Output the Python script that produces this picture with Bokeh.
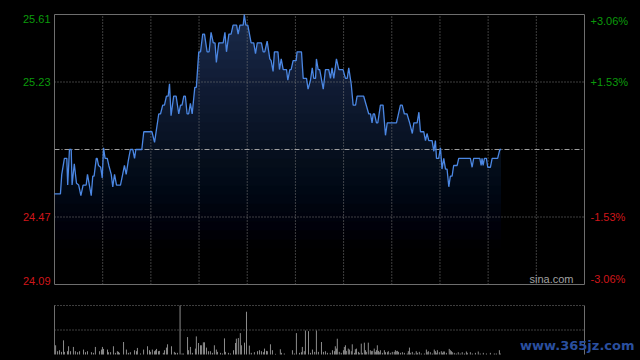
import numpy as np
from bokeh.plotting import figure
from bokeh.layouts import column
from bokeh.models import Label, Range1d
from bokeh.embed import file_html
from bokeh.resources import INLINE

# ---------------- data ----------------
prev_close = 24.85
price_low, price_high = 24.09, 25.61
price_levels = [25.61, 25.23, 24.47, 24.09]
price_labels = ["25.61", "25.23", "24.47", "24.09"]
pct_labels = ["+3.06%", "+1.53%", "-1.53%", "-3.06%"]
session_minutes = 241
time_divisions = 11

line_minute = [0.0, 2.7, 3.3, 4.5, 5.6, 6.0, 6.8, 7.6, 8.0, 9.0, 10.0, 11.0, 12.0, 13.0, 14.4,
               15.0, 16.0, 16.7, 17.4, 18.0, 19.0, 19.4, 20.0, 21.0, 21.7, 22.3, 23.0, 24.0, 24.7,
               25.8, 26.5, 27.3, 28.2, 30.0, 31.0, 31.8, 32.6, 33.6, 34.5, 35.6, 36.4, 37.0, 39.7,
               40.6, 44.3, 45.5, 47.4, 48.2, 49.2, 50.0, 50.9, 51.7, 52.3, 53.0, 54.2, 55.3, 56.5,
               57.3, 58.0, 58.8, 59.5, 60.3, 61.0, 61.8, 62.6, 63.8, 64.5, 65.6, 66.4, 67.4, 68.2,
               69.4, 70.3, 71.2, 72.2, 73.0, 73.6, 74.7, 76.7, 77.5, 78.2, 79.3, 80.3, 81.2, 82.8,
               83.5, 84.3, 85.8, 86.3, 87.0, 87.9, 89.4, 90.6, 91.4, 92.2, 94.1, 94.9, 95.6, 96.7,
               97.9, 98.5, 99.4, 100.0, 101.6, 102.3, 103.1, 104.0, 105.5, 106.1, 107.0, 107.6,
               108.5, 109.9, 110.3, 112.3, 113.1, 114.6, 115.3, 116.4, 117.2, 117.9, 118.7, 119.1,
               119.9, 120.6, 122.2, 123.2, 124.7, 125.5, 126.2, 127.0, 128.2, 129.3, 131.2, 132.3,
               133.1, 133.8, 134.9, 135.8, 136.9, 137.6, 140.6, 142.9, 143.7, 144.4, 144.9, 145.5,
               146.4, 147.0, 148.2, 149.4, 150.5, 151.3, 155.5, 157.3, 158.1, 159.1, 160.3, 161.5,
               162.7, 163.4, 164.9, 165.7, 166.4, 167.9, 168.7, 169.4, 170.2, 171.7, 172.5, 173.2,
               173.7, 174.7, 175.5, 176.2, 177.0, 177.8, 178.5, 179.3, 180.0, 180.8, 181.5, 183.1,
               183.8, 189.1, 189.9, 190.6, 193.4, 194.0, 194.4, 194.9, 195.5, 196.4, 197.0, 198.2,
               199.0, 201.5, 202.5, 203.1]
line_price = [24.60, 24.60, 24.71, 24.80, 24.80, 24.65, 24.85, 24.85, 24.65, 24.77, 24.66, 24.65,
              24.59, 24.65, 24.65, 24.71, 24.64, 24.59, 24.70, 24.70, 24.80, 24.80, 24.76, 24.75,
              24.69, 24.86, 24.80, 24.80, 24.76, 24.71, 24.64, 24.71, 24.65, 24.65, 24.71, 24.76,
              24.71, 24.79, 24.85, 24.85, 24.80, 24.85, 24.85, 24.95, 24.95, 24.89, 25.05, 25.05,
              25.10, 25.10, 25.15, 25.15, 25.22, 25.04, 25.15, 25.15, 25.05, 25.10, 25.10, 25.15,
              25.15, 25.05, 25.05, 25.11, 25.05, 25.20, 25.20, 25.40, 25.40, 25.50, 25.50, 25.40,
              25.40, 25.51, 25.45, 25.45, 25.34, 25.45, 25.45, 25.51, 25.40, 25.50, 25.50, 25.55,
              25.55, 25.50, 25.55, 25.55, 25.61, 25.55, 25.55, 25.45, 25.45, 25.39, 25.45, 25.45,
              25.40, 25.40, 25.46, 25.36, 25.35, 25.29, 25.40, 25.40, 25.30, 25.36, 25.30, 25.30,
              25.24, 25.30, 25.30, 25.35, 25.35, 25.40, 25.40, 25.25, 25.25, 25.19, 25.24, 25.31,
              25.25, 25.25, 25.36, 25.30, 25.30, 25.19, 25.30, 25.30, 25.25, 25.31, 25.25, 25.36,
              25.30, 25.30, 25.25, 25.25, 25.31, 25.22, 25.10, 25.10, 25.15, 25.15, 25.05, 25.05,
              25.00, 25.05, 25.05, 25.00, 25.00, 25.10, 25.10, 24.93, 25.00, 25.00, 25.10, 25.10,
              25.05, 25.05, 25.00, 24.94, 25.00, 25.00, 25.06, 24.95, 24.95, 24.90, 24.94, 24.90,
              24.90, 24.84, 24.90, 24.80, 24.80, 24.86, 24.74, 24.80, 24.74, 24.74, 24.64, 24.70,
              24.70, 24.76, 24.76, 24.80, 24.80, 24.75, 24.80, 24.80, 24.76, 24.80, 24.76, 24.80,
              24.80, 24.75, 24.75, 24.80, 24.80, 24.85, 24.85]

vol_minute = [0.5, 1.4, 2.3, 3.2, 4.1, 4.5, 5.9, 6.4, 7.3, 8.6, 9.5, 10.5, 11.4, 13.2, 14.1, 15.0,
              16.8, 17.7, 18.6, 20.5, 21.4, 21.8, 22.3, 24.1, 24.5, 25.5, 26.8, 27.7, 28.6, 29.1,
              29.5, 31.4, 32.7, 33.6, 34.5, 36.4, 37.3, 37.7, 39.1, 40.5, 42.3, 43.2, 43.6, 44.5,
              45.5, 45.9, 46.4, 47.3, 47.7, 49.5, 50.0, 50.9, 51.4, 53.2, 54.5, 55.0, 55.9, 57.1,
              58.0, 58.6, 60.5, 60.9, 61.8, 62.7, 64.1, 64.5, 65.5, 66.4, 66.8, 67.7, 68.2, 69.1,
              70.0, 70.9, 71.8, 72.7, 73.6, 74.1, 75.5, 76.4, 77.3, 77.7, 79.1, 80.0, 81.4, 82.3,
              82.7, 83.6, 84.5, 85.0, 86.4, 87.3, 88.6, 89.5, 90.9, 92.3, 93.2, 94.1, 95.0, 95.5,
              96.4, 96.8, 98.2, 99.1, 100.5, 102.7, 103.2, 104.5, 108.2, 109.1, 110.0, 111.4,
              112.3, 112.7, 113.6, 114.1, 115.5, 116.4, 117.3, 118.3, 119.1, 120.0, 121.4, 122.3,
              123.2, 124.1, 125.4, 126.4, 127.3, 127.7, 128.2, 128.6, 129.5, 130.4, 131.4, 131.8,
              132.3, 132.7, 133.6, 134.1, 135.0, 135.4, 136.4, 136.8, 137.3, 138.2, 138.6, 139.5,
              140.0, 140.9, 141.4, 141.8, 142.7, 143.6, 144.1, 144.5, 145.4, 145.9, 146.4, 146.8,
              147.3, 147.7, 148.2, 149.1, 150.0, 150.5, 151.4, 151.8, 152.7, 153.6, 154.5, 155.0,
              155.4, 155.9, 156.4, 157.3, 158.2, 159.1, 160.4, 160.9, 161.4, 161.8, 162.7, 163.6,
              164.5, 165.0, 165.9, 166.8, 168.2, 169.1, 169.5, 170.0, 170.9, 171.8, 172.7, 173.2,
              173.6, 174.1, 175.0, 175.9, 176.4, 176.8, 177.3, 178.2, 179.5, 180.0, 180.5, 180.9,
              181.8, 182.7, 183.6, 184.5, 185.4, 186.4, 187.3, 187.7, 189.1, 190.0, 191.4, 192.7,
              193.6, 195.0, 196.4, 198.2, 200.0, 200.9, 202.3, 202.7]
vol_value = [28, 10, 13, 8, 43, 8, 10, 25, 10, 23, 10, 7, 10, 15, 7, 10,
             7, 5, 23, 10, 15, 23, 17, 15, 7, 7, 25, 5, 10, 8,
             5, 38, 15, 5, 7, 13, 10, 20, 3, 15, 25, 13, 8, 15,
             10, 13, 17, 10, 11, 5, 13, 21, 31, 25, 8, 5, 5, 149,
             3, 3, 53, 13, 23, 5, 18, 55, 35, 28, 28, 37, 37, 21,
             10, 10, 5, 28, 15, 8, 5, 3, 49, 8, 5, 3, 13, 35,
             48, 50, 65, 28, 36, 130, 27, 5, 7, 10, 13, 10, 7, 18,
             11, 10, 31, 13, 2, 16, 5, 3, 13, 3, 65, 5,
             7, 23, 10, 73, 71, 5, 15, 8, 73, 8, 38, 8,
             10, 5, 5, 13, 10, 25, 18, 48, 8, 5, 13, 23,
             28, 11, 18, 15, 10, 31, 5, 16, 18, 8, 5, 33,
             5, 36, 13, 8, 36, 13, 10, 11, 18, 8, 13, 28,
             11, 7, 13, 5, 13, 7, 7, 10, 5, 8, 8, 13,
             10, 11, 8, 5, 7, 5, 3, 10, 21, 5, 8, 3,
             10, 5, 8, 3, 3, 15, 7, 10, 7, 3, 15, 10,
             5, 13, 7, 10, 5, 9, 9, 5, 17, 13, 10, 7,
             5, 3, 7, 3, 7, 3, 9, 5, 7, 3, 5, 9,
             3, 5, 3, 5, 3, 3, 13, 3]
vol_max = 149

# ---------------- layout (pixels) & style ----------------
W = 640
H1, H2 = 296, 64
PL, PR = 54, 584          # plot area left / right
PT, PB = 14, 284          # price panel top / bottom
VT, VB = 9, 58            # volume panel top / bottom (inside second canvas)
GREEN = "#0b9a0b"
RED = "#d0161a"
GRID = "#7c7c7c"
FRAME = "#6e6e6e"
FONT = "Liberation Sans"

x_per_px = session_minutes / (PR - PL)
x_lo = -PL * x_per_px
x_hi = session_minutes + (W - PR) * x_per_px
y_per_px = (price_high - price_low) / (PB - PT)
v_per_px = vol_max / (VB - VT)

def base_fig(h, y_range):
    f = figure(width=W, height=h, x_range=Range1d(x_lo, x_hi), y_range=y_range,
               x_axis_location=None, y_axis_location=None,
               toolbar_location=None, output_backend="svg",
               min_border_left=0, min_border_right=0, min_border_top=0, min_border_bottom=0,
               background_fill_color="black", border_fill_color="black",
               outline_line_color=None)
    f.grid.visible = False
    return f

# ---------------- price panel ----------------
p = base_fig(H1, Range1d(price_low - (H1 - PB) * y_per_px, price_high + PT * y_per_px))

# area under the line, darkened towards the bottom (stacked translucent black layers)
p.varea(x=line_minute, y1=price_low, y2=line_price, fill_color="#1a2b4b")
N = 30
edges = price_low + (price_high - price_low) * np.arange(1, N + 1) / N
bright = (np.arange(1, N + 1) - 0.5) / N
bright_next = np.append(bright[1:], 1.0)
alphas = 1.0 - bright / bright_next
p.quad(left=0, right=session_minutes, bottom=price_low, top=edges,
       fill_color="black", fill_alpha=alphas, line_color=None)

# grid
gx = [k * session_minutes / time_divisions for k in range(1, time_divisions)]
p.segment(x0=gx, y0=price_low, x1=gx, y1=price_high, line_color=GRID, line_dash="1 2")
gy = price_levels[1:3]
p.segment(x0=0, y0=gy, x1=session_minutes, y1=gy, line_color=GRID, line_dash="1 2")
p.segment(x0=[0], y0=[prev_close], x1=[session_minutes], y1=[prev_close],
          line_color="#a0a0a0", line_dash="5 2 1 2")

# frame
p.quad(left=[0], right=[session_minutes], bottom=[price_low], top=[price_high],
       fill_color=None, line_color=FRAME, line_width=1)

p.line(line_minute, line_price, line_color="#4b87e3", line_width=1.3)

baselines = ["top", "middle", "middle", "bottom"]
for lv, lab, pct, bl in zip(price_levels, price_labels, pct_labels, baselines):
    col = GREEN if lv > prev_close else RED
    p.add_layout(Label(x=0, y=lv, text=lab, x_offset=-4, text_align="right",
                       text_baseline=bl, text_color=col, text_font=FONT,
                       text_font_size="11px"))
    p.add_layout(Label(x=session_minutes, y=lv, text=pct, x_offset=6, text_align="left",
                       text_baseline=bl, text_color=col, text_font=FONT,
                       text_font_size="11px"))

p.add_layout(Label(x=session_minutes, y=price_low, text="sina.com", x_offset=-11,
                   text_align="right", text_baseline="bottom", text_color="#a0a0a0",
                   text_font=FONT, text_font_size="11px"))

# ---------------- volume panel ----------------
v = base_fig(H2, Range1d(-(H2 - VB) * v_per_px, vol_max + VT * v_per_px))
v.segment(x0=vol_minute, y0=0, x1=vol_minute, y1=vol_value, line_color="#8c8c8c", line_width=1)
v.segment(x0=0, y0=[vol_max, vol_max / 2], x1=session_minutes, y1=[vol_max, vol_max / 2],
          line_color=GRID, line_dash="1 2")
v.segment(x0=[0, session_minutes], y0=0, x1=[0, session_minutes], y1=vol_max,
          line_color=FRAME, line_width=1)

v.add_layout(Label(x=session_minutes, y=(VB - 49) * v_per_px, text="www.365jz.com", x_offset=50,
                   text_align="right", text_baseline="middle", text_color="#2a4f9e",
                   text_font="DejaVu Sans", text_font_style="bold", text_font_size="13px"))

layout = column(p, v, spacing=0)
template = "{% block postamble %}<style>html, body { background: #000; margin: 0; }</style>{% endblock %}"
open("out.html", "w").write(file_html(layout, INLINE, template=template))
